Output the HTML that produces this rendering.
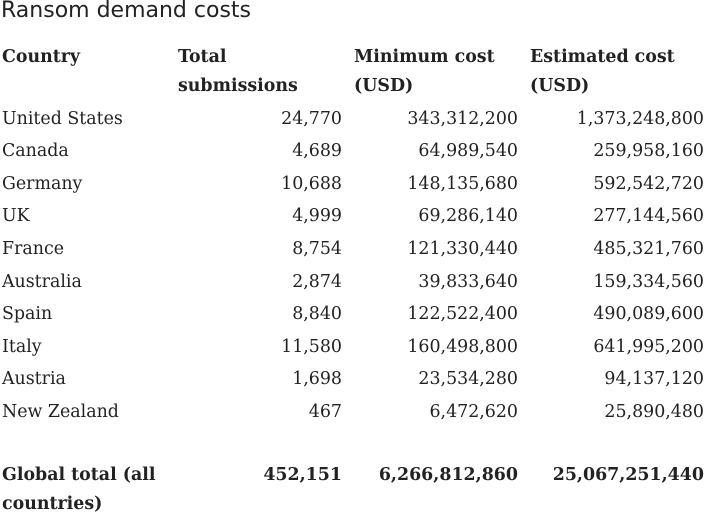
<!DOCTYPE html>
<html><head><meta charset="utf-8"><style>
body{margin:0;width:705px;height:514px;background:#fff;overflow:hidden;position:relative;color:#222;}
.t{position:absolute;font-family:"DejaVu Serif","Liberation Serif",serif;font-size:17.4px;white-space:nowrap;line-height:20px;}
.b{font-weight:bold;}
.r{text-align:right;}
h1{position:absolute;left:1px;top:-2px;margin:0;font-family:"DejaVu Sans","Liberation Sans",sans-serif;font-weight:normal;font-size:22px;color:#222;}
</style></head><body>
<h1>Ransom demand costs</h1>
<div id="tbl"></div>
<script>
const countries=["United States","Canada","Germany","UK","France","Australia","Spain","Italy","Austria","New Zealand"];
const submissions=["24,770","4,689","10,688","4,999","8,754","2,874","8,840","11,580","1,698","467"];
const minCost=["343,312,200","64,989,540","148,135,680","69,286,140","121,330,440","39,833,640","122,522,400","160,498,800","23,534,280","6,472,620"];
const estCost=["1,373,248,800","259,958,160","592,542,720","277,144,560","485,321,760","159,334,560","490,089,600","641,995,200","94,137,120","25,890,480"];
const tbl=document.getElementById('tbl');
function cell(txt,x,y,w,cls,name){const d=document.createElement('div');d.className='t '+cls;d.style.left=x+'px';d.style.top=(y-8.5)+'px';if(w)d.style.width=w+'px';d.textContent=txt;


tbl.appendChild(d);}
cell("Country",2,55,0,"b","header-country");
cell("Total",178,55,0,"b","header-total");
cell("submissions",178,84,0,"b","header-total-2");
cell("Minimum cost",354,55,0,"b","header-min");
cell("(USD)",354,84,0,"b","header-min-2");
cell("Estimated cost",530,55,0,"b","header-est");
cell("(USD)",530,84,0,"b","header-est-2");
countries.forEach((c,i)=>{const y=117+i*32.6;
cell(c,2,y,0,"","country-name");
cell(submissions[i],178,y,164,"r","submissions-value");
cell(minCost[i],354,y,164,"r","min-cost-value");
cell(estCost[i],530,y,174,"r","est-cost-value");});
cell("Global total (all",2,473,0,"b","global-total-label");
cell("countries)",2,502,0,"b","global-total-label-2");
cell("452,151",178,473,164,"b r","global-submissions");
cell("6,266,812,860",354,473,164,"b r","global-min-cost");
cell("25,067,251,440",530,473,174,"b r","global-est-cost");
</script>
</body></html>
